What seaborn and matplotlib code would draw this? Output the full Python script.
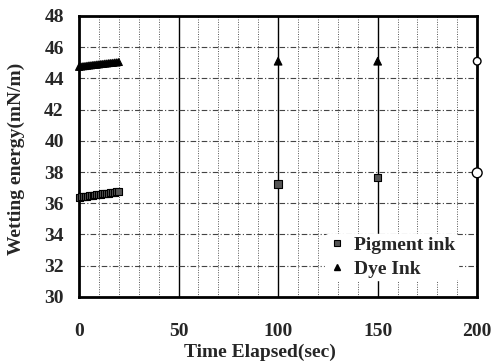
import matplotlib
matplotlib.use("Agg")
import matplotlib.pyplot as plt
import seaborn as sns
import pandas as pd
import numpy as np

# ---- data ----
band_time = [0, 1, 2, 3, 4, 5, 6, 7, 8, 9, 10, 11, 12, 13, 14, 15, 16, 17, 18, 19, 20]
pigment_band = [36.40, 36.42, 36.44, 36.45, 36.46, 36.49, 36.50, 36.52, 36.53, 36.55, 36.57,
                36.58, 36.60, 36.62, 36.63, 36.65, 36.67, 36.69, 36.71, 36.73, 36.76]
dye_band = [44.74, 44.76, 44.78, 44.79, 44.81, 44.83, 44.84, 44.86, 44.87, 44.89, 44.90,
            44.92, 44.93, 44.95, 44.96, 44.98, 44.99, 45.00, 45.02, 45.03, 45.05]
late_time = [100, 150, 200]
pigment_late = [37.25, 37.65, 37.95]
dye_late = [45.1, 45.1, 45.1]

xticks = [0, 50, 100, 150, 200]
yticks = [30, 32, 34, 36, 38, 40, 42, 44, 46, 48]

sns.set_theme(style="white")
plt.rcParams['font.family'] = ['Liberation Serif', 'DejaVu Serif']
plt.rcParams['font.weight'] = 'bold'

FS = 14

df_band = pd.DataFrame({
    "t": band_time * 2,
    "v": pigment_band + dye_band,
    "ink": ["Pigment ink"] * len(band_time) + ["Dye Ink"] * len(band_time),
})
df_late = pd.DataFrame({
    "t": late_time[:2] * 2,
    "v": pigment_late[:2] + dye_late[:2],
    "ink": ["Pigment ink"] * 2 + ["Dye Ink"] * 2,
})
df_end = pd.DataFrame({"t": [late_time[2]] * 2, "v": [pigment_late[2], dye_late[2]],
                       "sz": [2, 1]})

fig = plt.figure(figsize=(4.94, 3.63), dpi=100)
ax = fig.add_axes([0.160, 0.182, 0.806, 0.774])

# grid
for x in range(10, 200, 10):
    if x % 50 == 0:
        ax.axvline(x, color="black", lw=1.0, zorder=1)
    else:
        ax.axvline(x, color="#555555", lw=0.7, ls=(0, (1, 1.5)), zorder=1)
for y in range(32, 48, 2):
    ax.axhline(y, color="#444444", lw=0.8, ls=(0, (5, 2, 1, 2)), zorder=1)

markers = {"Pigment ink": "s", "Dye Ink": "^"}
palette = {"Pigment ink": "#555555", "Dye Ink": "black"}
sns.scatterplot(data=df_band, x="t", y="v", hue="ink", style="ink", markers=markers,
                palette=palette, s=25, edgecolor="black", linewidth=0.8, ax=ax,
                legend=False, zorder=3, clip_on=False)
sns.scatterplot(data=df_late, x="t", y="v", hue="ink", style="ink", markers=markers,
                palette=palette, s=30, edgecolor="black", linewidth=0.8, ax=ax,
                legend=False, zorder=3)
sns.scatterplot(data=df_end, x="t", y="v", marker="o", color="white",
                size="sz", sizes=(30, 50), legend=False,
                edgecolor="black", linewidth=1.0, ax=ax, zorder=5, clip_on=False)

ax.set_xlim(0, 200)
ax.set_ylim(30, 48)
ax.set_xticks(xticks)
ax.set_yticks(yticks)
ax.tick_params(axis="both", length=0, labelsize=FS)
ax.tick_params(axis="x", pad=19)
ax.tick_params(axis="y", pad=11)
for lab in ax.get_xticklabels() + ax.get_yticklabels():
    lab.set_fontweight("bold")

for s in ax.spines.values():
    s.set_visible(True)
    s.set_color("black")
    s.set_linewidth(2.0)

ax.set_xlabel("Time Elapsed(sec)", fontsize=FS, fontweight="bold")
ax.xaxis.set_label_coords(0.455, -0.168)
ax.set_ylabel("Wetting energy(mN/m)", fontsize=FS, fontweight="bold")
ax.yaxis.set_label_coords(-0.135, 0.49)

from matplotlib.lines import Line2D
handles = [
    Line2D([], [], marker="s", ls="none", markersize=4.5, markerfacecolor="#555555",
           markeredgecolor="black", markeredgewidth=0.8),
    Line2D([], [], marker="^", ls="none", markersize=4.5, markerfacecolor="black",
           markeredgecolor="black"),
]
leg = ax.legend(handles, ["Pigment ink", "Dye Ink"], loc="lower right",
                bbox_to_anchor=(0.975, 0.025), frameon=True, framealpha=1,
                edgecolor="white", facecolor="white",
                prop={"weight": "bold", "size": FS}, handletextpad=0.4,
                handlelength=1.0, labelspacing=0.35, borderpad=0.1)
leg.set_zorder(4)

fig.savefig("out.png", dpi=100)
